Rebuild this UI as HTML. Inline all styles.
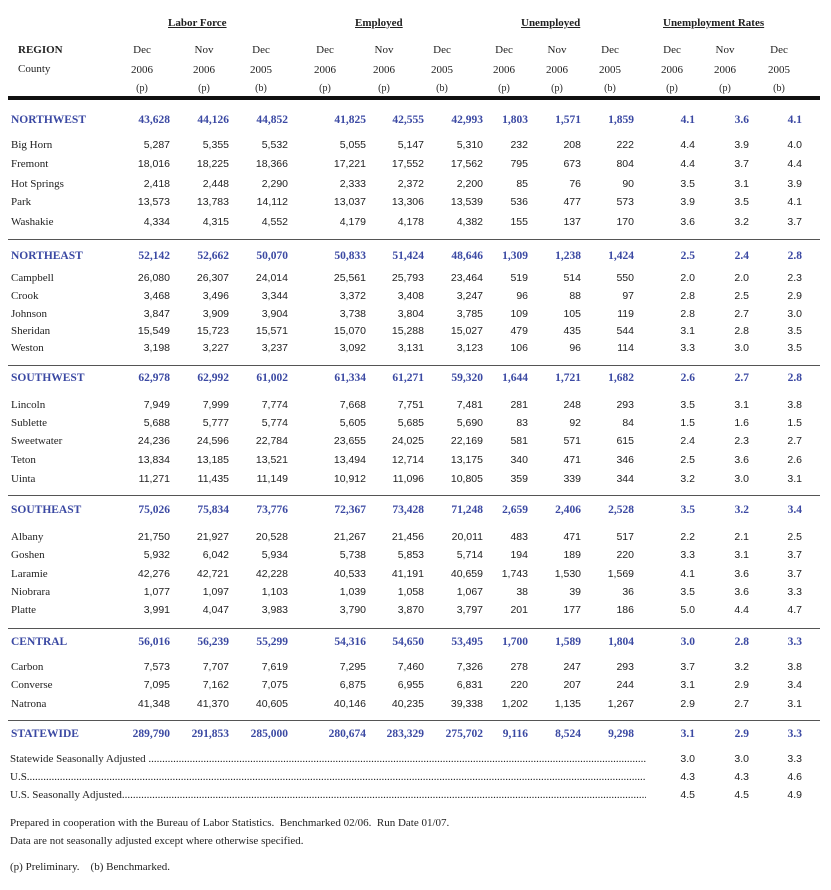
<!DOCTYPE html>
<html><head><meta charset="utf-8"><style>
body{margin:0;width:831px;height:890px;background:#fff;position:relative;font-family:"Liberation Serif",serif;font-size:11px;color:#222;overflow:hidden}
.t{position:absolute;white-space:nowrap;line-height:16px;height:16px}
.r{text-align:right}
.n{font-family:"Liberation Sans",sans-serif;font-size:10.5px}
.c{text-align:center;width:60px;margin-left:-30px}
.b{font-weight:bold;color:#3b49a3;font-family:"Liberation Serif",serif;font-size:11.5px}
.h{font-weight:bold;text-decoration:underline;color:#222}
.ln{position:absolute;left:8px;width:812px;height:1px;background:#555}
.lead{position:absolute;left:10px;width:636px;overflow:hidden;white-space:nowrap;line-height:16px;height:16px}
</style></head><body>
<div class="t h" style="left:168px;top:15px">Labor Force</div>
<div class="t h" style="left:355px;top:15px">Employed</div>
<div class="t h" style="left:521px;top:15px">Unemployed</div>
<div class="t h" style="left:663px;top:15px">Unemployment Rates</div>
<div class="t" style="left:18px;top:42px;font-weight:bold">REGION</div>
<div class="t" style="left:18px;top:61px">County</div>
<div style="position:absolute;left:8px;top:96px;width:812px;height:4px;background:#111"></div>
<div id="root"></div>
<script>
const cols=[170,229,288,366,424,483,528,581,634,695,749,802];
const hc=[142,204,261,325,384,442,504,557,610,672,725,779];
const h1=["Dec","Nov","Dec","Dec","Nov","Dec","Dec","Nov","Dec","Dec","Nov","Dec"];
const h2=["2006","2006","2005","2006","2006","2005","2006","2006","2005","2006","2006","2005"];
const h3=["(p)","(p)","(b)","(p)","(p)","(b)","(p)","(p)","(b)","(p)","(p)","(b)"];
let s="";
function add(x,y,txt,cls,st){s+=`<div class="t ${cls}" style="${st};top:${y-8}px">${txt}</div>`;}
for(let i=0;i<12;i++){add(0,50,h1[i],"c",`left:${hc[i]}px`);add(0,70,h2[i],"c",`left:${hc[i]}px`);add(0,89,h3[i],"c",`left:${hc[i]}px;font-size:10px`);}
function row(y,name,vals,bold){add(0,y,name,bold?"b":"",`left:11px`);vals.forEach((v,i)=>add(0,y,v,"r "+(bold?"b":"n"),`right:${831-cols[i]}px`));}
const data=[
[120,"NORTHWEST","43,628 44,126 44,852 41,825 42,555 42,993 1,803 1,571 1,859 4.1 3.6 4.1",1],
[145,"Big Horn","5,287 5,355 5,532 5,055 5,147 5,310 232 208 222 4.4 3.9 4.0"],
[164,"Fremont","18,016 18,225 18,366 17,221 17,552 17,562 795 673 804 4.4 3.7 4.4"],
[184,"Hot Springs","2,418 2,448 2,290 2,333 2,372 2,200 85 76 90 3.5 3.1 3.9"],
[202,"Park","13,573 13,783 14,112 13,037 13,306 13,539 536 477 573 3.9 3.5 4.1"],
[222,"Washakie","4,334 4,315 4,552 4,179 4,178 4,382 155 137 170 3.6 3.2 3.7"],
[256,"NORTHEAST","52,142 52,662 50,070 50,833 51,424 48,646 1,309 1,238 1,424 2.5 2.4 2.8",1],
[278,"Campbell","26,080 26,307 24,014 25,561 25,793 23,464 519 514 550 2.0 2.0 2.3"],
[296,"Crook","3,468 3,496 3,344 3,372 3,408 3,247 96 88 97 2.8 2.5 2.9"],
[314,"Johnson","3,847 3,909 3,904 3,738 3,804 3,785 109 105 119 2.8 2.7 3.0"],
[331,"Sheridan","15,549 15,723 15,571 15,070 15,288 15,027 479 435 544 3.1 2.8 3.5"],
[348,"Weston","3,198 3,227 3,237 3,092 3,131 3,123 106 96 114 3.3 3.0 3.5"],
[378,"SOUTHWEST","62,978 62,992 61,002 61,334 61,271 59,320 1,644 1,721 1,682 2.6 2.7 2.8",1],
[405,"Lincoln","7,949 7,999 7,774 7,668 7,751 7,481 281 248 293 3.5 3.1 3.8"],
[423,"Sublette","5,688 5,777 5,774 5,605 5,685 5,690 83 92 84 1.5 1.6 1.5"],
[441,"Sweetwater","24,236 24,596 22,784 23,655 24,025 22,169 581 571 615 2.4 2.3 2.7"],
[460,"Teton","13,834 13,185 13,521 13,494 12,714 13,175 340 471 346 2.5 3.6 2.6"],
[479,"Uinta","11,271 11,435 11,149 10,912 11,096 10,805 359 339 344 3.2 3.0 3.1"],
[510,"SOUTHEAST","75,026 75,834 73,776 72,367 73,428 71,248 2,659 2,406 2,528 3.5 3.2 3.4",1],
[537,"Albany","21,750 21,927 20,528 21,267 21,456 20,011 483 471 517 2.2 2.1 2.5"],
[555,"Goshen","5,932 6,042 5,934 5,738 5,853 5,714 194 189 220 3.3 3.1 3.7"],
[574,"Laramie","42,276 42,721 42,228 40,533 41,191 40,659 1,743 1,530 1,569 4.1 3.6 3.7"],
[592,"Niobrara","1,077 1,097 1,103 1,039 1,058 1,067 38 39 36 3.5 3.6 3.3"],
[610,"Platte","3,991 4,047 3,983 3,790 3,870 3,797 201 177 186 5.0 4.4 4.7"],
[642,"CENTRAL","56,016 56,239 55,299 54,316 54,650 53,495 1,700 1,589 1,804 3.0 2.8 3.3",1],
[667,"Carbon","7,573 7,707 7,619 7,295 7,460 7,326 278 247 293 3.7 3.2 3.8"],
[685,"Converse","7,095 7,162 7,075 6,875 6,955 6,831 220 207 244 3.1 2.9 3.4"],
[704,"Natrona","41,348 41,370 40,605 40,146 40,235 39,338 1,202 1,135 1,267 2.9 2.7 3.1"],
[734,"STATEWIDE","289,790 291,853 285,000 280,674 283,329 275,702 9,116 8,524 9,298 3.1 2.9 3.3",1]];
data.forEach(d=>row(d[0],d[1],d[2].split(" "),d[3]));
[239,365,495,628,720].forEach(y=>s+=`<div class="ln" style="top:${y}px"></div>`);
const dots=".".repeat(300);
[[759,"Statewide Seasonally Adjusted ","3.0 3.0 3.3"],[777,"U.S.","4.3 4.3 4.6"],[795,"U.S. Seasonally Adjusted","4.5 4.5 4.9"]].forEach(d=>{
s+=`<div class="lead" style="top:${d[0]-8}px">${d[1]}${dots}</div>`;
d[2].split(" ").forEach((v,i)=>add(0,d[0],v,"r n",`right:${831-cols[9+i]}px`));});
add(0,823,"Prepared in cooperation with the Bureau of Labor Statistics.&nbsp; Benchmarked 02/06.&nbsp; Run Date 01/07.","","left:10px");
add(0,841,"Data are not seasonally adjusted except where otherwise specified.","","left:10px");
add(0,867,"(p) Preliminary.&nbsp;&nbsp;&nbsp; (b) Benchmarked.","","left:10px");
document.getElementById("root").innerHTML=s;
</script>
</body></html>
